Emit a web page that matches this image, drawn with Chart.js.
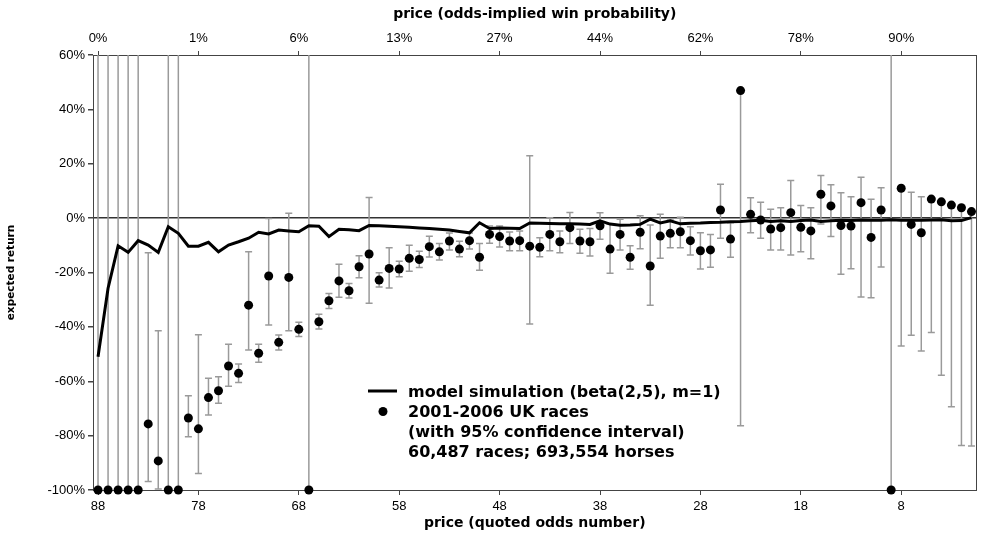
<!DOCTYPE html>
<html>
<head>
<meta charset="utf-8">
<script src="https://cdn.jsdelivr.net/npm/chart.js@4.4.1/dist/chart.umd.min.js"></script>
<style>
  html, body { margin: 0; padding: 0; background: #fff; }
</style>
</head>
<body>
<canvas id="retorno" width="981" height="540"></canvas>
<script>
// categorias: numero das odds cotadas, da esquerda para a direita
const oddsNumbers = [
  88, 87, 86, 85, 84, 83, 82, 81, 80, 79,
  78, 77, 76, 75, 74, 73, 72, 71, 70, 69,
  68, 67, 66, 65, 64, 63, 62, 61, 60, 59,
  58, 57, 56, 55, 54, 53, 52, 51, 50, 49,
  48, 47, 46, 45, 44, 43, 42, 41, 40, 39,
  38, 37, 36, 35, 34, 33, 32, 31, 30, 29,
  28, 27, 26, 25, 24, 23, 22, 21, 20, 19,
  18, 17, 16, 15, 14, 13, 12, 11, 10, 9,
  8, 7, 6, 5, 4, 3, 2, 1
];
const xTickValues = [88, 78, 68, 58, 48, 38, 28, 18, 8];
const probLabels = ['0%', '1%', '6%', '13%', '27%', '44%', '62%', '78%', '90%'];

// retorno esperado (%) - simulacao do modelo
const modelReturn = [
  -51, -25.8, -10.2, -12.6, -8.3, -9.9, -12.6, -3.2, -5.6, -10.3,
  -10.3, -8.9, -12.4, -9.9, -8.7, -7.4, -5.2, -5.8, -4.4, -4.7,
  -5.0, -2.8, -3.0, -6.8, -4.1, -4.3, -4.6, -2.7, -2.8, -3.0,
  -3.2, -3.4, -3.6, -3.8, -4.1, -4.4, -4.9, -5.4, -1.7, -3.8,
  -3.6, -3.7, -3.8, -1.8, -1.9, -2.0, -2.1, -2.1, -2.2, -2.3,
  -1.0, -2.2, -2.6, -2.5, -2.3, -0.4, -1.8, -1.0, -2.1, -1.9,
  -1.8, -1.6, -1.5, -1.3, -1.2, -1.0, -0.8, -1.2, -1.0, -1.2,
  -0.9, -0.7, -1.2, -1.0, -0.8, -0.9, -0.7, -0.8, -0.8, -0.6,
  -0.8, -0.8, -0.8, -0.7, -0.6, -1.0, -0.9, 0.2
];

// retorno observado (%) - corridas UK 2001-2006
const ukReturn = [
  -100, -100, -100, -100, -100, -75.7, -89.3, -100, -100, -73.5,
  -77.5, -66, -63.5, -54.4, -57.1, -32, -49.7, -21.3, -45.7, -21.8,
  -40.9, -100, -38.1, -30.4, -23.1, -26.7, -17.9, -13.2, -22.8, -18.5,
  -18.7, -14.8, -15.2, -10.5, -12.4, -8.4, -11.4, -8.3, -14.4, -6,
  -6.8, -8.4, -8.3, -10.3, -10.7, -6, -8.7, -3.5, -8.4, -8.7,
  -2.8, -11.4, -6, -14.4, -5.2, -17.6, -6.6, -5.6, -5, -8.3,
  -12, -11.7, 3, -7.7, 46.9, 1.4, -0.7, -4, -3.5, 2,
  -3.4, -4.7, 8.8, 4.5, -2.7, -2.9, 5.7, -7.1, 3, -100,
  11, -2.3, -5.4, 7, 6, 4.8, 3.8, 2.4
];

// intervalo de confianca 95% (%)
const ciLow = [
  -100, -100, -100, -100, -100, -96.9, -99.6, -100, -100, -80.4,
  -93.9, -72.4, -68.1, -61.8, -60.5, -48.5, -53, -39.3, -48.5, -41.4,
  -43.5, -100, -40.8, -33.2, -29.1, -29.4, -21.9, -31.3, -25.3, -25.7,
  -21.6, -19.5, -18.2, -14.3, -15.4, -11.7, -14.2, -11.4, -19.2, -9.2,
  -10.6, -12, -12, -38.9, -14.2, -12, -12.7, -9.3, -12.9, -13.9,
  -7.8, -20.3, -11.7, -18.8, -11.3, -32, -14.8, -10.9, -10.9, -13.6,
  -18.7, -18.1, -7.4, -14.4, -76.4, -5.4, -7.4, -11.7, -11.7, -13.6,
  -12.4, -14.9, -2.2, -6.8, -20.6, -18.6, -29, -29.3, -18, -100,
  -47, -43.1, -48.9, -42.1, -57.8, -69.4, -83.6, -83.8
];
const ciHigh = [
  100, 100, 100, 100, 100, -12.7, -41.4, 100, 100, -65.3,
  -42.9, -58.9, -58.3, -46.4, -53.7, -12.4, -46.4, -0.1, -43, 1.8,
  -38.3, 100, -35.4, -27.7, -17, -24, -13.8, 7.6, -20.1, -10.9,
  -15.9, -10, -12.2, -6.7, -9.3, -5.5, -8.5, -5.5, -9.3, -2.9,
  -2.9, -5.1, -4.7, 22.9, -7.2, 0.1, -4.7, 2.1, -4.1, -3.8,
  2, -2.2, -0.4, -10.2, 0.9, -2.5, 1.4, -0.7, 0.3, -3.2,
  -5.4, -6, 12.5, -1.7, 46.9, 7.5, 5.8, 3.3, 3.8, 13.8,
  4.6, 3.8, 15.7, 12.3, 9.3, 7.9, 15, 6.9, 11.2, 100,
  11, 9.5, 7.9, 7, 6, 4.8, 3.8, 2.4
];

const legendLines = [
  'model simulation (beta(2,5), m=1)',
  '2001-2006 UK races',
  '(with 95% confidence interval)',
  '60,487 races; 693,554 horses'
];

const tickFont = { family: "'Liberation Sans', Arial, sans-serif", size: 13 };
const titleFont = { family: "'DejaVu Sans', sans-serif", size: 14, weight: 'bold' };
const axisColor = '#444';

// barras de erro + borda direita
const errorBars = {
  id: 'errorBars',
  beforeDatasetsDraw(chart) {
    const { ctx, chartArea: a, scales: { x, y } } = chart;
    ctx.save();
    ctx.strokeStyle = axisColor;
    ctx.lineWidth = 1;
    ctx.beginPath();
    ctx.moveTo(a.right, a.top);
    ctx.lineTo(a.right, a.bottom);
    ctx.stroke();

    ctx.beginPath();
    ctx.rect(a.left, a.top, a.right - a.left, a.bottom - a.top);
    ctx.clip();
    ctx.strokeStyle = '#9a9a9a';
    ctx.lineWidth = 1.5;
    oddsNumbers.forEach((n, i) => {
      const px = x.getPixelForValue(n);
      const lo = y.getPixelForValue(ciLow[i]);
      const hi = y.getPixelForValue(ciHigh[i]);
      ctx.beginPath();
      ctx.moveTo(px, lo);
      ctx.lineTo(px, hi);
      ctx.moveTo(px - 3.5, lo);
      ctx.lineTo(px + 3.5, lo);
      ctx.moveTo(px - 3.5, hi);
      ctx.lineTo(px + 3.5, hi);
      ctx.stroke();
    });
    ctx.restore();
  }
};

// legenda dentro do grafico
const legendBox = {
  id: 'legendBox',
  afterDraw(chart) {
    const ctx = chart.ctx;
    ctx.save();
    ctx.fillStyle = '#000';
    ctx.strokeStyle = '#000';
    ctx.lineWidth = 3;
    ctx.beginPath();
    ctx.moveTo(368, 391);
    ctx.lineTo(397, 391);
    ctx.stroke();
    ctx.beginPath();
    ctx.arc(383, 411.5, 4.5, 0, Math.PI * 2);
    ctx.fill();
    ctx.font = "bold 16px 'DejaVu Sans', sans-serif";
    ctx.textBaseline = 'alphabetic';
    legendLines.forEach((t, i) => ctx.fillText(t, 408, 396.5 + i * 20));
    ctx.restore();
  }
};

const ctx = document.getElementById('retorno').getContext('2d');

new Chart(ctx, {
  type: 'scatter',
  data: {
    datasets: [
      {
        label: legendLines[0],
        type: 'line',
        data: oddsNumbers.map((n, i) => ({ x: n, y: modelReturn[i] })),
        borderColor: '#000',
        borderWidth: 3,
        pointRadius: 0,
        tension: 0,
        order: 2
      },
      {
        label: legendLines[1],
        data: oddsNumbers.map((n, i) => ({ x: n, y: ukReturn[i] })),
        backgroundColor: '#000',
        borderColor: '#000',
        pointRadius: 4.5,
        pointBorderWidth: 0,
        showLine: false,
        clip: 8,
        order: 1
      }
    ]
  },
  options: {
    responsive: false,
    animation: false,
    devicePixelRatio: 1,
    layout: { padding: { left: 0, right: 2, top: 0, bottom: 0 } },
    plugins: {
      legend: { display: false },
      tooltip: { enabled: false }
    },
    scales: {
      x: {
        type: 'linear',
        position: 'bottom',
        reverse: true,
        min: 0.5,
        max: 88.5,
        afterBuildTicks: s => { s.ticks = xTickValues.map(v => ({ value: v })); },
        afterFit: s => { s.height = 50; },
        ticks: { font: tickFont, color: '#000', padding: 4, maxRotation: 0, autoSkip: false, callback: v => String(v) },
        grid: { drawOnChartArea: false, tickLength: 5, color: axisColor },
        border: { color: axisColor, width: 1 },
        title: { display: true, text: 'price (quoted odds number)', font: titleFont, color: '#000', padding: { top: 0, bottom: 8 } }
      },
      x2: {
        type: 'linear',
        axis: 'x',
        position: 'top',
        reverse: true,
        min: 0.5,
        max: 88.5,
        afterBuildTicks: s => { s.ticks = xTickValues.map(v => ({ value: v })); },
        afterFit: s => { s.height = 55; },
        ticks: { font: tickFont, color: '#000', padding: 5, maxRotation: 0, autoSkip: false, callback: (v, i) => probLabels[i] },
        grid: { drawOnChartArea: false, tickLength: 4, color: axisColor },
        border: { color: axisColor, width: 1 },
        title: { display: true, text: 'price (odds-implied win probability)', font: titleFont, color: '#000', padding: { top: 6, bottom: 0 } }
      },
      y: {
        min: -100,
        max: 60,
        afterFit: s => { s.width = 93; },
        ticks: { stepSize: 20, font: tickFont, color: '#000', padding: 3, callback: v => v + '%' },
        grid: {
          color: c => (c.tick && c.tick.value === 0 ? '#333' : 'rgba(0,0,0,0)'),
          lineWidth: 1.5,
          tickColor: axisColor,
          tickLength: 5
        },
        border: { color: axisColor, width: 1 },
        title: { display: true, text: 'expected return', font: { family: "'DejaVu Sans', sans-serif", size: 10.5, weight: 'bold' }, color: '#000', padding: { top: 5, bottom: 0 } }
      }
    }
  },
  plugins: [errorBars, legendBox]
});
</script>
</body>
</html>
